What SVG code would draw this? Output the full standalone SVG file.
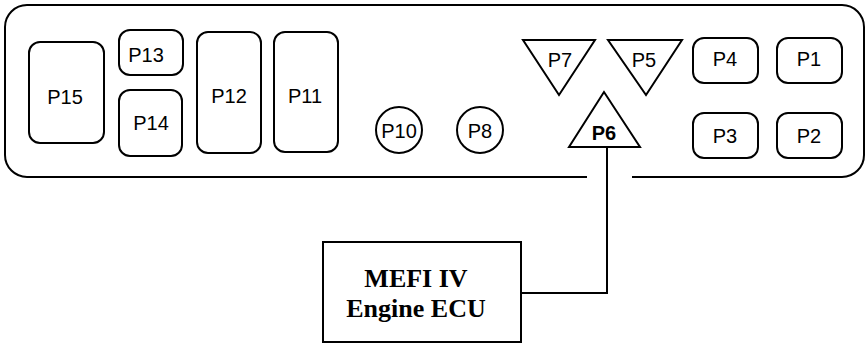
<svg xmlns="http://www.w3.org/2000/svg" width="867" height="345" viewBox="0 0 867 345">
<style>
.s{fill:none;stroke:#000;stroke-width:2}
.n{fill:#fff;stroke:#000;stroke-width:2}
.t{font-family:"Liberation Sans",Arial,sans-serif;font-size:20px;fill:#000;text-anchor:middle}
.b{font-weight:bold}
.e{font-family:"Liberation Serif","Times New Roman",serif;font-size:26px;font-weight:bold;fill:#000;text-anchor:middle}
</style>
<rect width="867" height="345" fill="#fff"/>
<g id="frame">
<path class="s" d="M587 177 H27 A22 22 0 0 1 5 155 V27 A22 22 0 0 1 27 5 H842 A22 22 0 0 1 864 27 V155 A22 22 0 0 1 842 177 H632"/>
</g>
<g id="P15"><rect class="n" x="29" y="42" width="75" height="101" rx="11"/><text class="t" x="65" y="104">P15</text></g>
<g id="P13"><rect class="n" x="119" y="30" width="64" height="45" rx="11"/><text class="t" x="146" y="62">P13</text></g>
<g id="P14"><rect class="n" x="119" y="90" width="63" height="66" rx="11"/><text class="t" x="151" y="130">P14</text></g>
<g id="P12"><rect class="n" x="197" y="32" width="64" height="121" rx="11"/><text class="t" x="229" y="103">P12</text></g>
<g id="P11"><rect class="n" x="274" y="32" width="64" height="120" rx="11"/><text class="t" x="305" y="103">P11</text></g>
<g id="P10"><circle class="n" cx="399" cy="130" r="23"/><text class="t" x="399" y="138">P10</text></g>
<g id="P8"><circle class="n" cx="480" cy="130" r="23"/><text class="t" x="480" y="138">P8</text></g>
<g id="P7"><polygon class="n" points="523,40 595,40 559,95"/><text class="t" x="560" y="67">P7</text></g>
<g id="P5"><polygon class="n" points="608,40 682,40 646,95"/><text class="t" x="644" y="67">P5</text></g>
<g id="P6"><polygon class="n" points="604,92 569,147 640,147"/><text class="t b" x="604" y="140">P6</text></g>
<g id="P4"><rect class="n" x="693" y="38" width="65" height="45" rx="11"/><text class="t" x="725" y="66">P4</text></g>
<g id="P1"><rect class="n" x="777" y="38" width="65" height="45" rx="11"/><text class="t" x="809" y="66">P1</text></g>
<g id="P3"><rect class="n" x="693" y="113" width="65" height="45" rx="11"/><text class="t" x="725" y="143">P3</text></g>
<g id="P2"><rect class="n" x="777" y="113" width="65" height="45" rx="11"/><text class="t" x="809" y="143">P2</text></g>
<g id="ECU"><rect class="n" x="323" y="242" width="198" height="100"/><text class="e" x="416" y="287">MEFI IV</text><text class="e" x="416" y="317">Engine ECU</text></g>
<g id="connectors">
<polyline class="s" points="607,147 607,293 521,293"/>
</g>
</svg>
